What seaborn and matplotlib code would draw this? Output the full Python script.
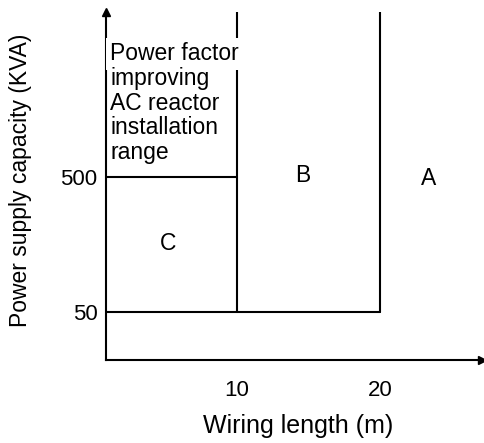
import numpy as np
import pandas as pd
import matplotlib
matplotlib.use("Agg")
import matplotlib.pyplot as plt
import seaborn as sns

sns.set_style("white")
plt.rcParams["font.family"] = ["Liberation Sans", "DejaVu Sans"]
plt.rcParams.update({"text.color": "black", "axes.labelcolor": "black",
                     "xtick.color": "black", "ytick.color": "black"})

length_limits = [10, 20]          # wiring length boundaries (m)
capacity_limits = [50, 500]       # power supply capacity boundaries (KVA)
x_ticks = [10, 20]
y_ticks = [50, 500]
region_names = ["C", "B", "A"]
region_x = [5.2, 14.6, 23.4]
region_y = [160, 510, 490]
note_text = ["Power factor", "improving", "AC reactor", "installation", "range"]

XMIN, XMAX = 0.84, 27.1
YMIN, YMAX = 22, 8350

# boundary segments of the regions
seg = pd.DataFrame({
    "seg": [0, 0, 1, 1, 2, 2, 3, 3],
    "x": [length_limits[0], length_limits[0], length_limits[1], length_limits[1],
          XMIN, length_limits[0], XMIN, length_limits[1]],
    "y": [capacity_limits[0], YMAX, capacity_limits[0], YMAX,
          capacity_limits[1], capacity_limits[1], capacity_limits[0], capacity_limits[0]],
})

fig = plt.figure(figsize=(4.84, 4.43), dpi=100)
ax = fig.add_axes([106 / 484, 1 - 360 / 443, 376 / 484, 348 / 443])

sns.lineplot(data=seg, x="x", y="y", units="seg", estimator=None, sort=False,
             color="black", linewidth=1.5, ax=ax, zorder=2)

ax.set_yscale("log")
ax.set_xlim(XMIN, XMAX)
ax.set_ylim(YMIN, YMAX)
ax.set_xticks(x_ticks)
ax.set_xticklabels([str(v) for v in x_ticks], fontsize=16)
ax.set_yticks(y_ticks)
ax.set_yticklabels([str(v) for v in y_ticks], fontsize=16)
ax.minorticks_off()
ax.tick_params(axis="x", direction="inout", length=9, width=1.3, pad=10, colors="black")
ax.tick_params(axis="y", length=0, pad=6, colors="black")

for s in ["top", "right"]:
    ax.spines[s].set_visible(False)
for s in ["left", "bottom"]:
    ax.spines[s].set_color("black")
    ax.spines[s].set_linewidth(1.5)

# arrow heads on the axes
ax.plot(1, 0, ">", color="black", markersize=6, transform=ax.transAxes, clip_on=False)
ax.plot(0, 1, "^", color="black", markersize=6, transform=ax.transAxes, clip_on=False)

ax.set_xlabel("Wiring length (m)", fontsize=18, color="black")
ax.xaxis.set_label_coords(0.51, -0.155)
ax.set_ylabel("Power supply capacity (KVA)", fontsize=16.5, color="black")
ax.yaxis.set_label_coords(-0.197, 0.515)

for name, xv, yv in zip(region_names, region_x, region_y):
    ax.text(xv, yv, name, fontsize=16.5, ha="center", va="center", color="black")

# note text in region C; first line breaks the x=10 boundary line
ax.text(1.15, 4970, note_text[0], fontsize=16.5, ha="left", va="top", zorder=3,
        color="black", bbox=dict(facecolor="white", edgecolor="none", pad=3))
ax.text(1.15, 3250, "\n".join(note_text[1:]), fontsize=16.5, ha="left", va="top",
        linespacing=1.08, zorder=3, color="black")

fig.savefig("out.png", dpi=100)
